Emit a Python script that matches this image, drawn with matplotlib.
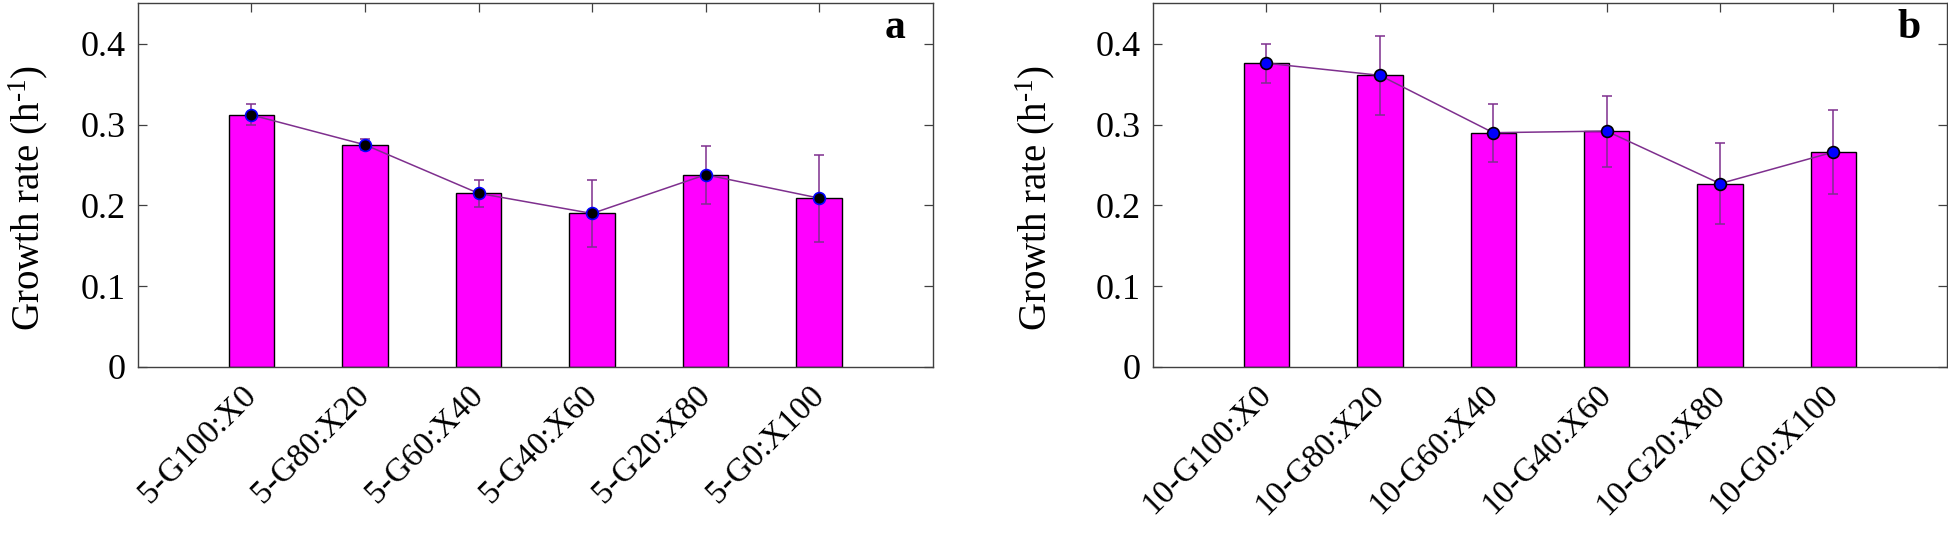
import matplotlib
matplotlib.use('Agg')

import numpy as np
import matplotlib.pyplot as plt
import matplotlib.transforms as mtransforms

# Data
labels_a = ['5-G100:X0', '5-G80:X20', '5-G60:X40', '5-G40:X60', '5-G20:X80', '5-G0:X100']
labels_b = ['10-G100:X0', '10-G80:X20', '10-G60:X40', '10-G40:X60', '10-G20:X80', '10-G0:X100']
rate_a = [0.312, 0.275, 0.215, 0.190, 0.238, 0.209]
err_a = [0.013, 0.007, 0.017, 0.042, 0.036, 0.054]
rate_b = [0.376, 0.361, 0.290, 0.292, 0.227, 0.266]
err_b = [0.024, 0.049, 0.036, 0.044, 0.050, 0.052]
yticks = [0, 0.1, 0.2, 0.3, 0.4]
ytick_labels = ['0', '0.1', '0.2', '0.3', '0.4']

plt.rcParams['font.family'] = ['Liberation Serif', 'DejaVu Serif']
plt.rcParams['mathtext.fontset'] = 'custom'
plt.rcParams['mathtext.rm'] = 'Liberation Serif'
plt.rcParams['mathtext.it'] = 'Liberation Serif:italic'

purple = '#7E2F8E'

fig = plt.figure(figsize=(19.48, 5.37), dpi=100)
ax_a = fig.add_axes([0.0708, 0.3166, 0.408, 0.677])
ax_b = fig.add_axes([0.5919, 0.3166, 0.4075, 0.677])


def draw_panel(ax, labels, rate, err, tag, face, edge, label_x):
    x = np.arange(1, len(rate) + 1)
    ax.bar(x, rate, width=0.4, color='#FF00FF', edgecolor='black',
           linewidth=1.0, zorder=2)
    ax.errorbar(x, rate, yerr=err, fmt='none', ecolor=purple,
                elinewidth=1.1, capsize=3.5, capthick=1.1, zorder=3)
    ax.plot(x, rate, '-', color=purple, linewidth=1.1, zorder=4)
    ax.plot(x, rate, 'o', markersize=8.5, markerfacecolor=face,
            markeredgecolor=edge, markeredgewidth=1.2, zorder=5)

    ax.set_xlim(0, 7)
    ax.set_ylim(0, 0.45)
    ax.set_xticks(x)
    ax.set_xticklabels(labels, rotation=45, ha='right', va='center',
                       rotation_mode='anchor', fontsize=24)
    shift = mtransforms.ScaledTranslation(11 / 100, 0, fig.dpi_scale_trans)
    for t in ax.get_xticklabels():
        t.set_transform(t.get_transform() + shift)
    ax.set_yticks(yticks)
    ax.set_yticklabels(ytick_labels, fontsize=26)
    ax.tick_params(direction='in', length=6.5, width=0.9, color='#404040',
                   top=True, right=True)
    ax.tick_params(axis='y', pad=9)
    ax.tick_params(axis='x', pad=17)
    for s in ax.spines.values():
        s.set_color('#404040')
        s.set_linewidth(1.0)

    ax.set_ylabel('Growth rate (h$^{\\text{-}1}$)', fontsize=28)
    ax.yaxis.set_label_coords(label_x, 0.465)
    ax.text(0.953, 0.904, tag, transform=ax.transAxes, fontsize=30,
            fontweight='bold', ha='center', va='baseline')


draw_panel(ax_a, labels_a, rate_a, err_a, 'a', 'black', 'blue', -0.111)
draw_panel(ax_b, labels_b, rate_b, err_b, 'b', 'blue', 'black', -0.121)

plt.savefig('out.png', dpi=100)
